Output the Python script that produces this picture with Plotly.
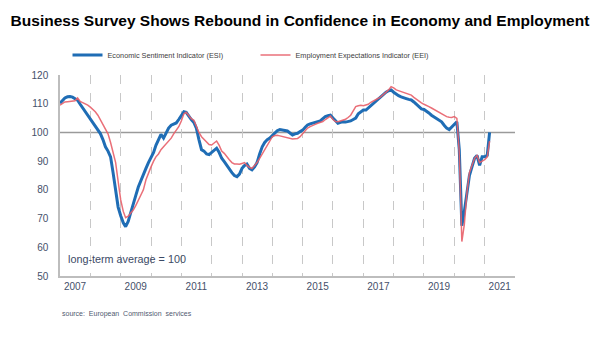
import pandas as pd
import plotly.graph_objects as go

# Monthly data, Jan 2007 .. Mar 2021
esi = [
    # 2007
    110.2, 111.2, 112.0, 112.4, 112.5, 112.3, 111.8, 111.2, 109.8, 108.5, 107.3, 106.2,
    # 2008
    104.5, 103.2, 102.0, 100.5, 99.6, 97.5, 95.0, 93.5, 91.5, 86.0, 80.0, 74.0,
    # 2009
    71.0, 68.5, 67.2, 69.0, 72.0, 75.5, 78.0, 81.0, 83.0, 85.0, 87.5, 89.5,
    # 2010
    91.5, 93.0, 95.5, 97.5, 99.3, 98.0, 100.0, 101.5, 102.5, 103.0, 103.3, 104.5,
    # 2011
    106.0, 107.2, 107.0, 105.5, 104.5, 103.5, 101.5, 97.5, 94.0, 93.5, 92.5, 92.3,
    # 2012
    93.0, 94.0, 94.5, 93.0, 91.0, 89.8, 88.5, 87.5, 86.0, 85.0, 84.6, 85.5,
    # 2013
    87.5, 88.5, 89.0, 87.5, 87.0, 88.0, 89.5, 92.5, 95.0, 96.5, 97.5, 98.0,
    # 2014
    99.0, 100.0, 100.6, 101.0, 100.8, 100.6, 100.5, 99.8, 99.1, 99.5, 99.7, 100.3,
    # 2015
    100.8, 101.8, 102.6, 103.0, 103.3, 103.5, 103.7, 104.0, 104.8, 105.5, 105.8, 106.0,
    # 2016
    105.0, 104.0, 103.2, 103.5, 103.7, 103.6, 103.7, 104.0, 104.5, 105.0, 106.5, 107.3,
    # 2017
    107.8, 107.8, 108.5, 109.5, 110.1, 111.0, 111.9, 112.5, 113.2, 114.0, 114.5, 114.8,
    # 2018
    114.0, 113.3, 112.8, 112.4, 112.2, 111.8, 111.5, 111.3, 110.6, 109.8, 109.2, 108.2,
    # 2019
    108.0, 107.5, 106.8, 106.0, 105.5, 105.0, 104.4, 103.7, 102.5, 101.5, 101.0, 101.8,
    # 2020
    102.8, 103.7, 94.0, 67.5, 72.5, 79.0, 85.0, 88.0, 91.0, 92.0, 88.5, 91.5,
    # 2021
    91.5, 92.0, 100.0,
]

eei = [
    # 2007
    109.5, 110.2, 110.6, 110.7, 110.8, 110.8, 111.0, 112.0, 110.8, 110.4, 110.0, 109.5,
    # 2008
    108.8, 108.0, 107.2, 106.0, 104.5, 103.0, 101.0, 99.5, 96.5, 93.5, 89.5, 83.0,
    # 2009
    76.5, 72.5, 70.3, 70.8, 71.8, 73.0, 74.5, 76.5, 78.0, 80.0, 83.5, 86.0,
    # 2010
    88.0, 90.0, 91.5, 92.5, 94.0, 95.0, 96.0, 97.0, 98.0, 99.5, 100.8, 102.0,
    # 2011
    104.0, 106.5, 107.0, 106.0, 104.8, 104.2, 102.0, 100.0, 98.5, 97.5, 96.5, 95.8,
    # 2012
    95.6, 96.5, 97.0, 95.5, 93.5, 92.7, 91.5, 90.5, 89.5, 89.0, 89.0, 88.9,
    # 2013
    89.2, 89.5, 88.5, 87.8, 87.5, 88.5, 89.5, 91.0, 92.5, 93.8, 95.2, 97.0,
    # 2014
    98.5, 98.9, 99.0, 98.8, 98.6, 98.5, 98.3, 98.0, 97.7, 97.8, 97.9, 98.5,
    # 2015
    99.5, 100.5, 101.5, 102.0, 102.3, 102.8, 103.2, 103.4, 103.8, 104.5, 105.2, 105.7,
    # 2016
    104.5, 103.8, 103.7, 104.0, 104.2, 104.6, 105.2, 106.0, 107.5, 109.0, 109.3, 109.5,
    # 2017
    109.3, 109.5, 109.8, 110.5, 110.9, 111.5, 111.9, 112.5, 113.2, 113.8, 114.8, 115.9,
    # 2018
    115.5, 114.8, 114.5, 114.2, 113.9, 113.6, 113.2, 113.0, 112.2, 111.5, 110.7, 110.3,
    # 2019
    109.8, 109.5, 109.0, 108.5, 108.0, 107.6, 107.2, 106.6, 106.0, 105.5, 105.3, 105.2,
    # 2020
    105.5, 104.9, 93.0, 62.0, 68.0, 79.0, 86.0, 88.5, 91.0, 92.0, 89.5, 90.0,
    # 2021
    90.5, 91.5, 97.0,
]

dates = pd.date_range("2007-01-01", periods=len(esi), freq="MS")

year_labels = ["2007", "2009", "2011", "2013", "2015", "2017", "2019", "2021"]
label_positions = [f"{y}-07-01" for y in year_labels]
year_starts = [f"{y}-01-01" for y in range(2007, 2023)]
y_ticks = [50, 60, 70, 80, 90, 100, 110, 120]

ESI_NAME = "Economic Sentiment Indicator (ESI)"
EEI_NAME = "Employment Expectations Indicator (EEI)"

fig = go.Figure()
fig.add_trace(go.Scatter(
    x=dates, y=esi, mode="lines", name=ESI_NAME,
    line=dict(color="#1f6db5", width=3),
))
fig.add_trace(go.Scatter(
    x=dates, y=eei, mode="lines", name=EEI_NAME,
    line=dict(color="#e8606a", width=1.5), opacity=0.9,
))

# long-term average line
fig.add_hline(y=100, line=dict(color="#9a9a9a", width=1.5), layer="below")

FONT = "Liberation Sans, Arial"
tick_font = dict(family=FONT, size=10, color="#45506a")

fig.update_layout(
    width=600, height=339,
    margin=dict(l=59.5, r=85, t=75, b=63),
    paper_bgcolor="white", plot_bgcolor="white",
    title=dict(
        text="<b>Business Survey Shows Rebound in Confidence in Economy and Employment</b>",
        x=0.5, xanchor="center", y=0.939, yanchor="middle",
        font=dict(family=FONT, size=15.5, color="black"),
    ),
    showlegend=True,
    legend=dict(
        orientation="h", x=0.0165, xanchor="left", y=1.0995, yanchor="middle",
        font=dict(family=FONT, size=7.3, color="#404040"),
        itemwidth=30, entrywidth=143, traceorder="normal",
        bgcolor="rgba(0,0,0,0)",
    ),
    xaxis=dict(
        range=["2007-01-01", "2022-01-01"],
        tickmode="array", tickvals=label_positions, ticktext=year_labels,
        ticks="", showgrid=False, zeroline=False,
        showline=True, linecolor="#bdbdbd", linewidth=1.5,
        tickfont=tick_font,
        minor=dict(tickmode="array", tickvals=year_starts, showgrid=True,
                   gridcolor="#c8c8c8", griddash="dash", gridwidth=1, ticks=""),
    ),
    yaxis=dict(
        range=[50, 120], tickmode="array", tickvals=y_ticks,
        ticks="", showgrid=False, zeroline=False,
        showline=True, linecolor="#bdbdbd", linewidth=1.5,
        tickfont=tick_font, ticklabelstandoff=8,
    ),
    annotations=[
        dict(text="long-term average = 100", xref="paper", yref="paper",
             x=0.014, y=0.085, xanchor="left", yanchor="middle", showarrow=False,
             font=dict(family=FONT, size=10.8, color="#3c4a66")),
        dict(text="source:  European  Commission  services", xref="paper", yref="paper",
             x=0.0, y=-0.19, xanchor="left", yanchor="middle", showarrow=False,
             font=dict(family=FONT, size=7, color="#505a70")),
    ],
)

fig.write_html("out.html")
